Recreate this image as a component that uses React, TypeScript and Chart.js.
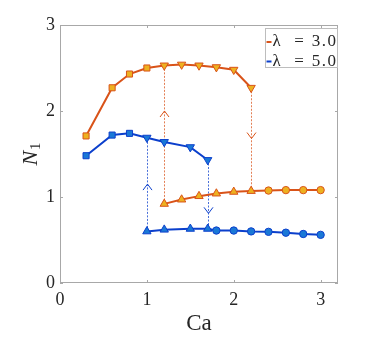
import { useEffect, useRef } from 'react';
import { Chart, registerables } from 'chart.js';
Chart.register(...registerables);

// ---- data ----
const xTicks = [0, 1, 2, 3];
const yTicks = [0, 1, 2, 3];
const xMax = 3.2;
const yMax = 3;

const legendLabels = ['λ = 3.0', 'λ = 5.0'];

// λ = 3.0
const caUpper3 = [0.3, 0.6, 0.8, 1.0, 1.2, 1.4, 1.6, 1.8, 2.0, 2.2];
const n1Upper3 = [1.71, 2.27, 2.43, 2.5, 2.53, 2.54, 2.53, 2.51, 2.48, 2.27];
const mkUpper3 = ['s', 's', 's', 's', 'v', 'v', 'v', 'v', 'v', 'v'];
const caLower3 = [1.2, 1.4, 1.6, 1.8, 2.0, 2.2, 2.4, 2.6, 2.8, 3.0];
const n1Lower3 = [0.92, 0.97, 1.01, 1.04, 1.06, 1.07, 1.075, 1.08, 1.08, 1.08];
const mkLower3 = ['^', '^', '^', '^', '^', '^', 'o', 'o', 'o', 'o'];

// λ = 5.0
const caUpper5 = [0.3, 0.6, 0.8, 1.0, 1.2, 1.5, 1.7];
const n1Upper5 = [1.48, 1.72, 1.74, 1.69, 1.64, 1.58, 1.43];
const mkUpper5 = ['s', 's', 's', 'v', 'v', 'v', 'v'];
const caLower5 = [1.0, 1.2, 1.5, 1.7, 1.8, 2.0, 2.2, 2.4, 2.6, 2.8, 3.0];
const n1Lower5 = [0.6, 0.62, 0.63, 0.63, 0.61, 0.61, 0.6, 0.595, 0.585, 0.57, 0.56];
const mkLower5 = ['^', '^', '^', '^', 'o', 'o', 'o', 'o', 'o', 'o', 'o'];

// jump arrows (series index: 0 = λ 3.0, 1 = λ 5.0)
const arrowSeries = [0, 0, 1, 1];
const arrowCa = [1.2, 2.2, 1.0, 1.7];
const arrowFrom = [0.92, 2.27, 0.6, 1.43];
const arrowTo = [2.53, 1.07, 1.69, 0.63];
const arrowHead = [2.0, 1.68, 1.15, 0.81];

// ---- styles ----
const LINE = ['#D95319', '#0B3FCC'];
const FACE = ['#EDB120', '#1A78D6'];
const DASH = ['rgba(217,83,25,0.75)', 'rgba(11,63,204,0.75)'];
const AXIS = '#a8a8a8';
const TEXT = '#262626';
const SERIF = '"Liberation Serif", "DejaVu Serif", serif';

function markerStyle(m: string) {
  if (m === 's') return { style: 'rect', rot: 0, r: 4.3 };
  if (m === 'v') return { style: 'triangle', rot: 180, r: 4.8 };
  if (m === '^') return { style: 'triangle', rot: 0, r: 4.8 };
  return { style: 'circle', rot: 0, r: 3.7 };
}

function makeDs(xs: number[], ys: number[], mk: string[], s: number) {
  const st = mk.map(markerStyle);
  return {
    data: xs.map((x, i) => ({ x, y: ys[i] })),
    showLine: true,
    borderColor: LINE[s],
    backgroundColor: FACE[s],
    borderWidth: 2,
    tension: 0,
    pointStyle: st.map((p) => p.style),
    pointRotation: st.map((p) => p.rot),
    pointRadius: st.map((p) => p.r),
    pointBorderColor: LINE[s],
    pointBackgroundColor: FACE[s],
    pointBorderWidth: 1,
  };
}

const decorPlugin = {
  id: 'decor',
  beforeDatasetsDraw(chart: any) {
    const { ctx, scales } = chart;
    const xs = scales.x, ys = scales.y;
    ctx.save();
    arrowCa.forEach((ca, i) => {
      const s = arrowSeries[i];
      const px = Math.round(xs.getPixelForValue(ca)) + 0.5;
      const y0 = ys.getPixelForValue(arrowFrom[i]);
      const y1 = ys.getPixelForValue(arrowTo[i]);
      const yh = ys.getPixelForValue(arrowHead[i]);
      ctx.strokeStyle = DASH[s];
      ctx.lineWidth = 1;
      ctx.setLineDash([2, 1.5]);
      ctx.beginPath();
      ctx.moveTo(px, y0);
      ctx.lineTo(px, y1);
      ctx.stroke();
      ctx.setLineDash([]);
      const dir = arrowTo[i] > arrowFrom[i] ? 1 : -1; // 1 = up
      ctx.strokeStyle = LINE[s];
      ctx.beginPath();
      ctx.moveTo(px - 4.5, yh + dir * 6);
      ctx.lineTo(px, yh);
      ctx.lineTo(px + 4.5, yh + dir * 6);
      ctx.stroke();
    });
    ctx.restore();
  },
  afterDraw(chart: any) {
    const { ctx, chartArea: a, scales } = chart;
    ctx.save();
    // frame
    ctx.strokeStyle = AXIS;
    ctx.lineWidth = 1;
    ctx.strokeRect(a.left + 0.5, a.top + 0.5, a.right - a.left - 1, a.bottom - a.top - 1);
    ctx.beginPath();
    xTicks.forEach((v) => {
      const p = Math.round(scales.x.getPixelForValue(v)) + 0.5;
      ctx.moveTo(p, a.bottom);
      ctx.lineTo(p, a.bottom - 3);
      ctx.moveTo(p, a.top);
      ctx.lineTo(p, a.top + 3);
    });
    yTicks.forEach((v) => {
      const p = Math.round(scales.y.getPixelForValue(v)) + 0.5;
      ctx.moveTo(a.left, p);
      ctx.lineTo(a.left + 3, p);
      ctx.moveTo(a.right, p);
      ctx.lineTo(a.right - 3, p);
    });
    ctx.stroke();

    // axis titles
    ctx.fillStyle = TEXT;
    ctx.font = `23px ${SERIF}`;
    ctx.textAlign = 'center';
    ctx.textBaseline = 'middle';
    ctx.fillText('Ca', (a.left + a.right) / 2, 324);

    ctx.save();
    ctx.translate(37, (a.top + a.bottom) / 2);
    ctx.rotate(-Math.PI / 2);
    ctx.textAlign = 'left';
    ctx.textBaseline = 'alphabetic';
    ctx.font = `italic 22px ${SERIF}`;
    const wN = ctx.measureText('N').width;
    ctx.font = `15px ${SERIF}`;
    const w1 = ctx.measureText('1').width;
    const x0 = -(wN + w1 + 1) / 2;
    ctx.font = `italic 22px ${SERIF}`;
    ctx.fillText('N', x0, 0);
    ctx.font = `15px ${SERIF}`;
    ctx.fillText('1', x0 + wN + 1, 3);
    ctx.restore();

    // legend
    const lx = 265, ly = 28, lw = a.right - lx, lh = 40;
    ctx.fillStyle = '#ffffff';
    ctx.fillRect(lx, ly, lw, lh);
    ctx.strokeStyle = '#bdbdbd';
    ctx.lineWidth = 1;
    ctx.strokeRect(lx + 0.5, ly + 0.5, lw - 1, lh - 1);
    legendLabels.forEach((lab, i) => {
      const cy = ly + 14 + i * 19.5;
      ctx.strokeStyle = LINE[i];
      ctx.lineWidth = 2;
      ctx.beginPath();
      ctx.moveTo(lx + 1.5, cy);
      ctx.lineTo(lx + 6.5, cy);
      ctx.stroke();
      const parts = lab.split(' ');
      ctx.fillStyle = TEXT;
      ctx.font = `17px ${SERIF}`;
      ctx.textBaseline = 'middle';
      ctx.textAlign = 'left';
      ctx.fillText(parts[0], lx + 7.5, cy);
      ctx.textAlign = 'center';
      ctx.fillText(parts[1], lx + 34, cy);
      ctx.textAlign = 'right';
      (ctx as any).letterSpacing = '1.5px';
      ctx.fillText(parts[2], lx + lw - 0.5, cy);
      (ctx as any).letterSpacing = '0px';
    });
    ctx.restore();
  },
};

export default function App() {
  const ref = useRef<HTMLCanvasElement | null>(null);
  useEffect(() => {
    if (!ref.current) return;
    const chart = new Chart(ref.current, {
      type: 'scatter',
      data: {
        datasets: [
          makeDs(caUpper3, n1Upper3, mkUpper3, 0),
          makeDs(caLower3, n1Lower3, mkLower3, 0),
          makeDs(caUpper5, n1Upper5, mkUpper5, 1),
          makeDs(caLower5, n1Lower5, mkLower5, 1),
        ] as any,
      },
      options: {
        animation: false,
        responsive: false,
        maintainAspectRatio: false,
        layout: { padding: { top: 25, right: 36, left: 0, bottom: 0 } },
        plugins: { legend: { display: false }, tooltip: { enabled: false } },
        scales: {
          x: {
            type: 'linear',
            min: 0,
            max: xMax,
            grid: { display: false, drawTicks: false },
            border: { display: false },
            afterBuildTicks: (s: any) => {
              s.ticks = xTicks.map((v) => ({ value: v }));
            },
            afterFit: (s: any) => {
              s.height = 57;
            },
            ticks: {
              color: TEXT,
              font: { family: SERIF, size: 18 },
              padding: 6,
              maxRotation: 0,
            },
          },
          y: {
            type: 'linear',
            min: 0,
            max: yMax,
            grid: { display: false, drawTicks: false },
            border: { display: false },
            afterBuildTicks: (s: any) => {
              s.ticks = yTicks.map((v) => ({ value: v }));
            },
            afterFit: (s: any) => {
              s.width = 60;
            },
            ticks: {
              color: TEXT,
              font: { family: SERIF, size: 18 },
              padding: 5,
            },
          },
        },
      } as any,
      plugins: [decorPlugin],
    });
    return () => chart.destroy();
  }, []);
  return (
    <div style={{ position: 'fixed', left: 0, top: 0, width: 374, height: 340, background: '#fff' }}>
      <canvas ref={ref} width={374} height={340} style={{ width: 374, height: 340 }} />
    </div>
  );
}
